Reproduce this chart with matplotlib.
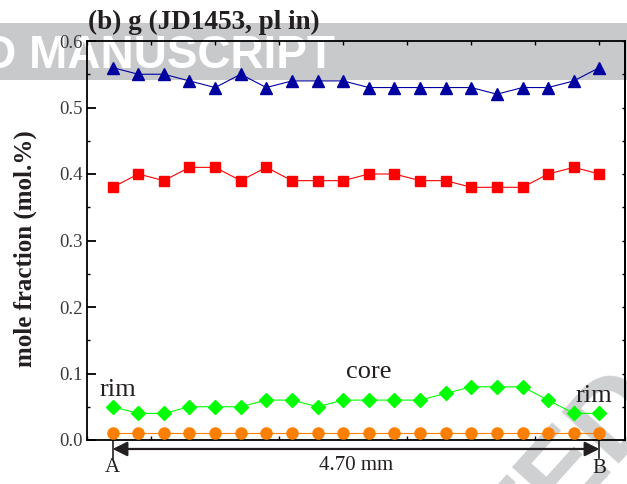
import numpy as np
import matplotlib.pyplot as plt
from matplotlib.patches import Rectangle
from matplotlib.ticker import FixedLocator, MultipleLocator

# mole fractions along the profile A -> B (20 spots)
grs = [0.56, 0.55, 0.55, 0.54, 0.53, 0.55, 0.53, 0.54, 0.54, 0.54,
       0.53, 0.53, 0.53, 0.53, 0.53, 0.52, 0.53, 0.53, 0.54, 0.56]
alm = [0.38, 0.40, 0.39, 0.41, 0.41, 0.39, 0.41, 0.39, 0.39, 0.39,
       0.40, 0.40, 0.39, 0.39, 0.38, 0.38, 0.38, 0.40, 0.41, 0.40]
prp = [0.05, 0.04, 0.04, 0.05, 0.05, 0.05, 0.06, 0.06, 0.05, 0.06,
       0.06, 0.06, 0.06, 0.07, 0.08, 0.08, 0.08, 0.06, 0.04, 0.04]
sps = [0.01] * 20
yticks = [0.0, 0.1, 0.2, 0.3, 0.4, 0.5, 0.6]
ytick_labels = ['0.0', '0.1', '0.2', '0.3', '0.4', '0.5', '0.6']
profile_len = '4.70 mm'

plt.rcParams['font.family'] = ['Liberation Serif', 'DejaVu Serif']
ink = '#231f20'
stamp_grey = '#c8c9cb'

fig = plt.figure(figsize=(6.27, 4.84), dpi=100)

# grey header band with the manuscript stamp, kept behind the plot
fig.patches.append(Rectangle((0, 1 - 80 / 484), 1, 57 / 484, transform=fig.transFigure,
                             facecolor=stamp_grey, edgecolor='none', zorder=0))
fig.text(335 / 627, 1 - 68 / 484, 'ACCEPTED MANUSCRIPT', color='white', fontsize=33,
         fontweight='bold', family='Liberation Sans', ha='right', va='baseline', zorder=1)
# diagonal page stamp, only its corner falls inside the figure
fig.text(700 / 627, 1 - 330 / 484, 'ACCEPTED MANUSCRIPT', color='#cfd0d2', fontsize=80,
         fontweight='bold', family='Liberation Sans', rotation=48, rotation_mode='anchor',
         ha='center', va='center', zorder=1)

ax = fig.add_axes([87 / 627, 44 / 484, 538 / 627, 399 / 484])
ax.set_facecolor('none')
ax.set_zorder(2)

x = np.arange(len(grs))
ax.plot(x, grs, color='#0000a0', lw=0.8, marker='^', ms=8, clip_on=False, zorder=5)
ax.plot(x, alm, color='#ff0000', lw=0.8, marker='s', ms=7.2, clip_on=False, zorder=5)
ax.plot(x, prp, color='#00ff00', lw=0.8, marker='D', ms=6.8, clip_on=False, zorder=5)
ax.plot(x, sps, color='#ff8000', lw=0.8, marker='o', ms=8, clip_on=False, zorder=5)

ax.set_xlim(-1, 20)
ax.set_ylim(0, 0.6)
ax.xaxis.set_major_locator(FixedLocator(np.arange(-1, 20, 2.5)))
ax.set_xticklabels([])
ax.set_yticks(yticks)
ax.set_yticklabels(ytick_labels)
ax.yaxis.set_minor_locator(MultipleLocator(0.05))

for s in ax.spines.values():
    s.set_linewidth(1.3)
    s.set_color('black')
ax.tick_params(axis='x', which='both', direction='in', top=True, length=3, width=1)
ax.tick_params(axis='y', which='major', direction='in', length=6.5, width=1.3,
               labelsize=13.5, labelcolor='#3a3a3a', pad=3)
ax.tick_params(axis='y', which='minor', direction='in', length=2.5, width=1)

# short ticks on the right frame
sec = ax.secondary_yaxis('right')
sec.set_yticks(yticks)
sec.yaxis.set_minor_locator(MultipleLocator(0.05))
sec.set_yticklabels([])
sec.tick_params(which='both', direction='in', length=2.5, width=1)
sec.spines['right'].set_linewidth(1.3)

ax.set_ylabel('mole fraction (mol.%)', fontsize=18, fontweight='bold', color=ink)
ax.yaxis.set_label_coords(-0.093, 0.48)
fig.text(88 / 627, 1 - 29 / 484, '(b) g (JD1453, pl in)', fontsize=19.5, fontweight='bold',
         color=ink, ha='left', va='baseline', zorder=3)

# rim / core labels
ax.text(0.2, 0.066, 'rim', fontsize=19, color=ink, ha='center', va='baseline')
ax.text(10, 0.093, 'core', fontsize=19, color=ink, ha='center', va='baseline')
ax.text(18.8, 0.057, 'rim', fontsize=19, color=ink, ha='center', va='baseline')

# traverse arrow A -> B under the frame
ya = -0.0135
ax.annotate('', xy=(0, ya), xytext=(19, ya), annotation_clip=False,
            arrowprops=dict(arrowstyle='<|-|>', color=ink, lw=1.6, mutation_scale=22,
                            shrinkA=0, shrinkB=0))
for xe in (0, 19):
    ax.plot([xe, xe], [0, -0.027], color=ink, lw=1.2, clip_on=False)
ax.text(0, -0.048, 'A', fontsize=15, color=ink, ha='center', va='baseline', clip_on=False)
ax.text(19, -0.050, 'B', fontsize=15, color=ink, ha='center', va='baseline', clip_on=False)
ax.text(9.5, -0.045, profile_len, fontsize=15, color=ink, ha='center', va='baseline',
        clip_on=False)

fig.savefig('out.png', dpi=100)
